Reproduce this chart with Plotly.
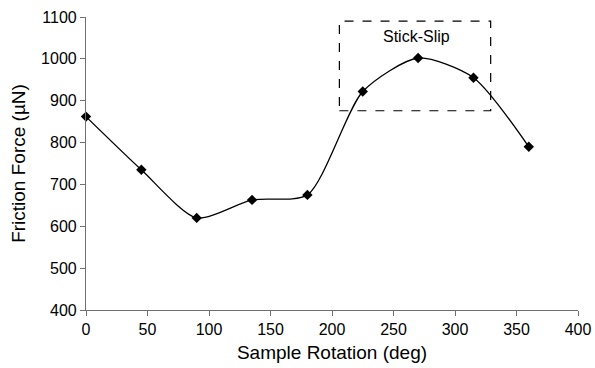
import plotly.graph_objects as go

rotation_deg = [0, 45, 90, 135, 180, 225, 270, 315, 360]
friction_uN = [862, 735, 620, 663, 675, 922, 1002, 955, 790]

x_ticks = [0, 50, 100, 150, 200, 250, 300, 350, 400]
y_ticks = [400, 500, 600, 700, 800, 900, 1000, 1100]

box_x = [206, 329]
box_y = [876, 1090]
label_text = "Stick-Slip"
label_pos = (269, 1054)

FONT = "Liberation Sans, Arial"

fig = go.Figure()
fig.add_trace(go.Scatter(
    x=rotation_deg, y=friction_uN, mode="lines+markers",
    line=dict(color="black", width=1.3, shape="spline", smoothing=0.7),
    marker=dict(symbol="diamond", size=8, color="black"),
    showlegend=False, cliponaxis=False,
))

fig.add_shape(type="rect", xref="x", yref="y",
              x0=box_x[0], x1=box_x[1], y0=box_y[0], y1=box_y[1],
              line=dict(color="black", width=1.2, dash="dash"))
fig.add_annotation(x=label_pos[0], y=label_pos[1], text=label_text,
                   showarrow=False, xref="x", yref="y",
                   font=dict(family=FONT, size=16, color="black"))

axis_common = dict(
    showgrid=False, zeroline=False, showline=True, linecolor="#707070", linewidth=1.2,
    ticks="outside", ticklen=5, tickcolor="#707070", tickwidth=1,
    tickfont=dict(family=FONT, size=16, color="black"),
    automargin=False,
)
fig.update_xaxes(range=[0, 400], tickvals=x_ticks,
                 title=dict(text="Sample Rotation (deg)",
                            font=dict(family=FONT, size=19, color="black"),
                            standoff=8),
                 **axis_common)
fig.update_yaxes(range=[400, 1100], tickvals=y_ticks,
                 title=dict(text="Friction Force (µN)",
                            font=dict(family=FONT, size=19, color="black"),
                            standoff=10),
                 **axis_common)

fig.update_layout(
    width=595, height=368,
    margin=dict(l=86, r=17, t=17, b=58),
    plot_bgcolor="white", paper_bgcolor="white",
)
fig.write_html("out.html")
